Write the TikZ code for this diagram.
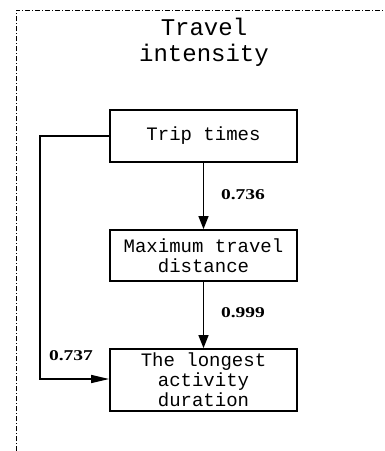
\documentclass[tikz,border=0pt]{standalone}
\usepackage{fontspec}
\setmainfont{Liberation Serif}
\newfontfamily\boxfont{Liberation Mono}
\usetikzlibrary{arrows.meta}
\tikzset{
  varbox/.style={draw, line width=1.8pt, minimum width=187pt, align=center, inner sep=0pt,
    font=\boxfont\fontsize{19}{20}\selectfont},
  coef/.style={font=\bfseries\fontsize{15}{16}\selectfont, inner sep=0pt},
  conn/.style={line width=1.5pt, -{Triangle[length=13pt,width=10pt]}},
  frame/.style={line width=0.9pt, dash pattern=on 5pt off 2pt on 1pt off 2pt}
}
\begin{document}
\begin{tikzpicture}[x=1pt,y=-1pt]
\useasboundingbox (0,0) rectangle (385,451);
\coordinate (fb) at (16,451);
\coordinate (fc) at (16,10);
\coordinate (fr) at (385,10);
\draw[frame] (fb) -- (fc) -- (fr);
\node[font=\boxfont\fontsize{24}{26}\selectfont, align=center] (title) at (204,42) {Travel\\intensity};
\node[varbox, minimum height=52pt] (trip) at (203.5,136) {Trip times};
\node[varbox, minimum height=51pt] (maxd) at (203.5,255.5) {Maximum travel\\distance};
\node[varbox, minimum height=62pt] (dur) at (203.5,380) {The longest\\activity\\duration};
\draw[conn] (trip) -- (maxd);
\draw[conn] (maxd) -- (dur);
\coordinate (lt) at (40,136);
\coordinate (lb) at (40,379);
\draw[line width=1.5pt, -{Triangle[length=18pt,width=8pt]}] (trip.west) -- (lt) -- (lb) -- (lb -| dur.west);
\node[coef] (c1) at (243,195) {\scalebox{1.3}[1]{0.736}};
\node[coef] (c2) at (243,313) {\scalebox{1.3}[1]{0.999}};
\node[coef] (c3) at (71,356) {\scalebox{1.3}[1]{0.737}};
\end{tikzpicture}
\end{document}
